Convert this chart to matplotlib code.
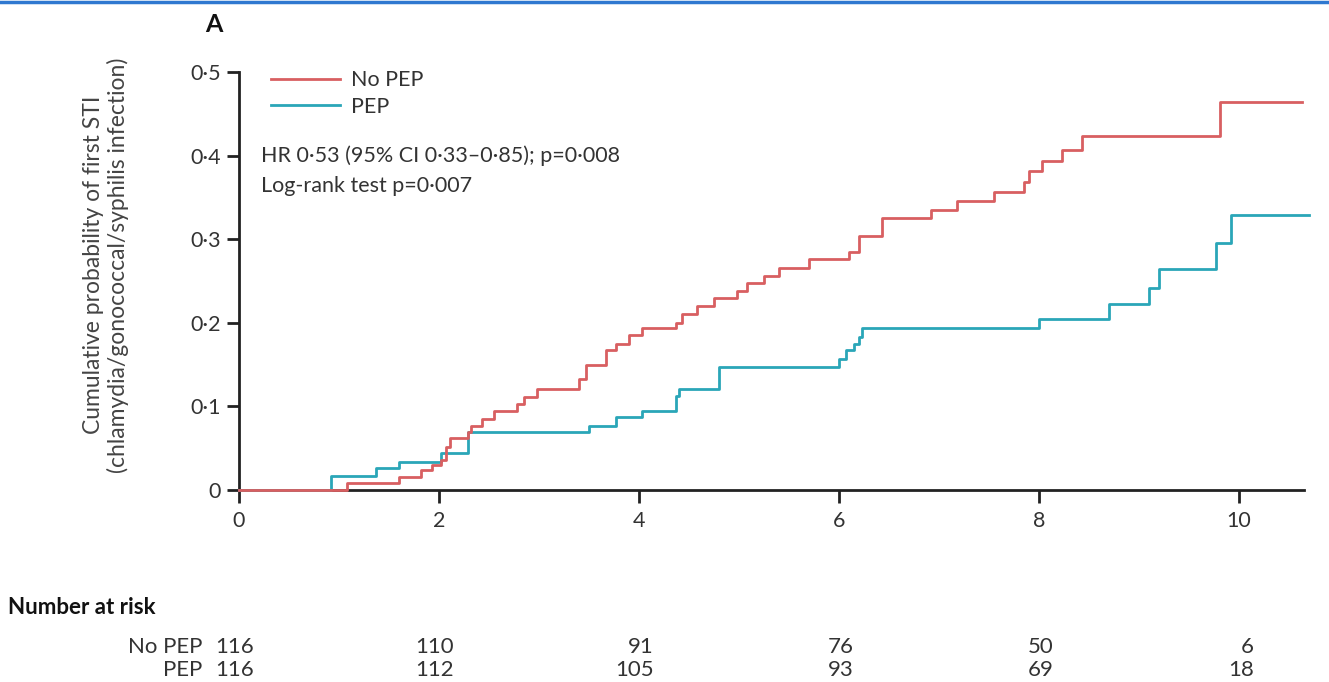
import numpy as np
import matplotlib
matplotlib.use('Agg')
from matplotlib import pyplot as plt
from matplotlib.lines import Line2D

plt.rcParams['font.family'] = ['Lato', 'DejaVu Sans']

# Kaplan-Meier step data (years, cumulative probability)
no_pep_t = [0, 1.08, 1.6, 1.82, 1.93, 2.02, 2.07, 2.11, 2.29, 2.32, 2.43, 2.55, 2.78, 2.85, 2.98,
            3.4, 3.47, 3.67, 3.77, 3.9, 4.03, 4.37, 4.43, 4.58, 4.75, 4.98, 5.08, 5.25, 5.4, 5.7,
            6.1, 6.2, 6.43, 6.92, 7.18, 7.55, 7.85, 7.9, 8.03, 8.23, 8.43, 9.81, 10.63]
no_pep_p = [0, 0.008, 0.016, 0.024, 0.030, 0.036, 0.052, 0.062, 0.069, 0.077, 0.085, 0.095, 0.103, 0.111, 0.121,
            0.133, 0.149, 0.167, 0.175, 0.185, 0.194, 0.200, 0.210, 0.220, 0.230, 0.238, 0.248, 0.256, 0.266, 0.276,
            0.285, 0.304, 0.325, 0.335, 0.346, 0.357, 0.369, 0.381, 0.394, 0.407, 0.423, 0.464, 0.464]

pep_t = [0, 0.92, 1.37, 1.6, 2.02, 2.29, 3.5, 3.77, 4.03, 4.37, 4.40, 4.8, 6.0, 6.07, 6.15, 6.2, 6.23,
         8.0, 8.7, 9.1, 9.2, 9.77, 9.92, 10.7]
pep_p = [0, 0.017, 0.026, 0.034, 0.044, 0.069, 0.077, 0.087, 0.095, 0.113, 0.121, 0.147, 0.157, 0.167, 0.175,
         0.183, 0.194, 0.204, 0.222, 0.242, 0.264, 0.296, 0.329, 0.329]

risk_times = [0, 2, 4, 6, 8, 10]
risk_no_pep = [116, 110, 91, 76, 50, 6]
risk_pep = [116, 112, 105, 93, 69, 18]

red = '#d85f61'
teal = '#2aa6b8'
txt = '#333333'

fig = plt.figure(figsize=[13.29, 6.82], dpi=100)
ax = fig.add_axes([239/1329, 1-490/682, 1070/1329, 418/682])

ax.plot(pep_t, pep_p, drawstyle='steps-post', color=teal, lw=2, clip_on=False, zorder=3, label='PEP')
ax.plot(no_pep_t, no_pep_p, drawstyle='steps-post', color=red, lw=2, clip_on=False, zorder=4, label='No PEP')

ax.set_xlim(0, 10.7)
ax.set_ylim(0, 0.5)
for s in ['top', 'right']:
    ax.spines[s].set_visible(False)
for s in ['left', 'bottom']:
    ax.spines[s].set_linewidth(2)
    ax.spines[s].set_color('#222222')
ax.spines['bottom'].set_bounds(0, 10.65)

ax.set_xticks(risk_times)
ax.set_xticklabels([str(t) for t in risk_times])
yt = [0, 0.1, 0.2, 0.3, 0.4, 0.5]
ax.set_yticks(yt)
ax.set_yticklabels(['0'] + [('%.1f' % v).replace('.', '\u00b7') for v in yt[1:]])
ax.tick_params(direction='out', length=9, width=2, color='#222222', labelsize=15.5, labelcolor=txt, pad=4)
ax.tick_params(axis='x', pad=6)

# legend drawn as lines + text
handles = [Line2D([], [], color=red, lw=2), Line2D([], [], color=teal, lw=2)]
ax.legend(handles, ['No PEP', 'PEP'], loc='upper left', bbox_to_anchor=(0.012, 1.05), frameon=False,
          fontsize=15.5, handlelength=3.2, handletextpad=0.5, labelspacing=0.3, labelcolor=txt)

ax.text(0.22, 0.4, 'HR 0\u00b753 (95% CI 0\u00b733\u20130\u00b785); p=0\u00b7008', fontsize=15.5, color=txt,
        va='center', ha='left')
ax.text(0.22, 0.364, 'Log-rank test p=0\u00b7007', fontsize=15.5, color=txt, va='center', ha='left')

fig.text(205/1329, 1-25/682, 'A', fontsize=18, fontweight='bold', color='#111111', ha='left', va='center')
fig.text(106/1329, 1-265/682,
         'Cumulative probability of first STI\n(chlamydia/gonococcal/syphilis infection)',
         rotation=90, ha='center', va='center', multialignment='center', fontsize=16.5, color='#444444',
         linespacing=1.15)

# number at risk table
fig.text(8/1329, 1-608/682, 'Number at risk', fontsize=16, fontweight='bold', color='#111111',
         ha='left', va='center')
for row_y, name, vals in [(647, 'No PEP', risk_no_pep), (670, 'PEP', risk_pep)]:
    fig.text(202/1329, 1-row_y/682, name, fontsize=16, color=txt, ha='right', va='center')
    for t, v in zip(risk_times, vals):
        ax.annotate(str(v), xy=(t + 0.15, 0), xycoords=('data', 'axes fraction'),
                    xytext=(0, -(row_y - 490)), textcoords='offset pixels',
                    ha='right', va='center', fontsize=16, color=txt, annotation_clip=False)

# blue strip across the top of the screenshot
fig.add_artist(Line2D([0, 1], [1-1.5/682, 1-1.5/682], transform=fig.transFigure, color='#2f78d0', lw=2.5))

plt.savefig('out.png', dpi=100)
plt.close()
